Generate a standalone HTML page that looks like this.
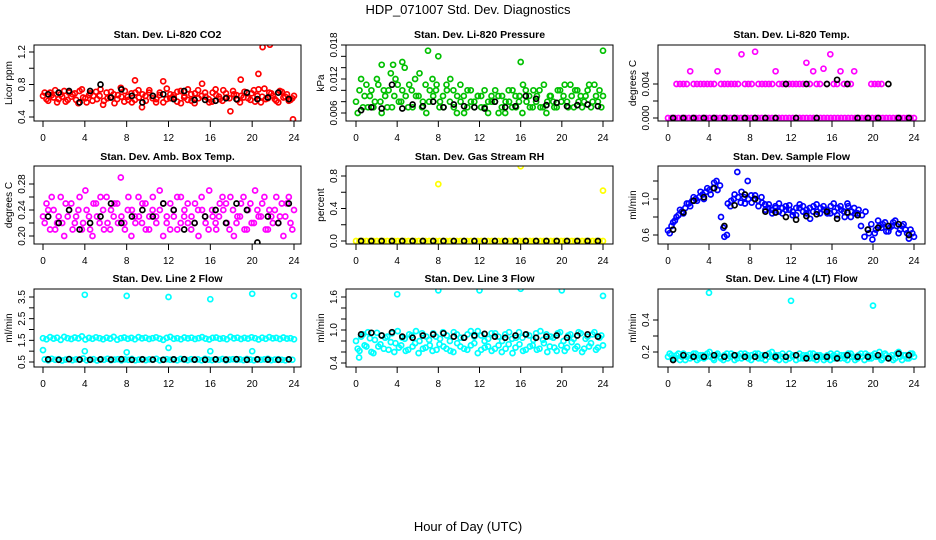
<!DOCTYPE html>
<html><head><meta charset="utf-8"><style>
html,body{margin:0;padding:0;background:#fff}
svg{display:block;font-family:"Liberation Sans",Arial,sans-serif}
</style></head><body>
<svg id="c" width="936" height="540" viewBox="0 0 936 540">
<text x="468" y="14" text-anchor="middle" font-size="13">HDP_071007  Std. Dev. Diagnostics</text>
<text x="468" y="531" text-anchor="middle" font-size="13">Hour of Day (UTC)</text>
</svg>
<script>
const xTicks = [0,4,8,12,16,20,24];
const co2Main = [0.66,0.62,0.70,0.64,0.58,0.68,0.72,0.61,0.65,0.69,0.57,0.74,0.63,0.67,0.60,0.71,0.66,0.55,0.70,0.64,0.68,0.62,0.76,0.59,0.65,0.69,0.61,0.73,0.52,0.66,0.70,0.63,0.58,0.67,0.84,0.62,0.68,0.64,0.71,0.57,0.66,0.74,0.60,0.69,0.63,0.81,0.65,0.58,0.70,0.67,0.62,0.73,0.64,0.47,0.68,0.61,0.66,0.71,0.63,0.69,0.59,0.74,0.65,0.62,0.70,0.66,0.60,0.72,0.64,0.68,0.61,0.66];
const co2Alt = [0.70,0.60,0.67,0.73,0.62,0.65,0.59,0.70,0.68,0.61,0.72,0.64,0.58,0.69,0.66,0.62,0.74,0.60,0.63,0.71,0.57,0.67,0.65,0.72,0.61,0.58,0.70,0.64,0.68,0.60,0.73,0.66,0.62,0.70,0.58,0.75,0.63,0.67,0.59,0.72,0.64,0.61,0.68,0.57,0.73,0.66,0.70,0.62,0.59,0.74,0.65,0.60,0.69,0.63,0.72,0.67,0.58,0.64,0.70,0.61,0.73,0.66,0.58,0.75,0.63,0.69,0.62,0.58,0.71,0.65,0.60,0.63];
const co2OutH = [20.6,21,21.7,23.9,18.9,8.8];
const co2OutV = [0.93,1.26,1.29,0.37,0.86,0.85];
const co2Black = [0.68,0.70,0.72,0.58,0.72,0.80,0.64,0.74,0.66,0.58,0.66,0.68,0.62,0.72,0.61,0.61,0.60,0.63,0.62,0.70,0.62,0.64,0.70,0.62];
const presMain = [0.008,0.010,0.007,0.011,0.009,0.007,0.012,0.008,0.010,0.007,0.013,0.009,0.011,0.008,0.014,0.007,0.010,0.012,0.009,0.007,0.011,0.008,0.012,0.010,0.007,0.009,0.011,0.008,0.010,0.006,0.011,0.009,0.007,0.010,0.008,0.009,0.009,0.007,0.008,0.008,0.010,0.006,0.009,0.008,0.008,0.010,0.007,0.009,0.011,0.008,0.007,0.010,0.009,0.007,0.011,0.008,0.009,0.007,0.010,0.008,0.011,0.007,0.009,0.010,0.008,0.007,0.009,0.011,0.008,0.009,0.010,0.009];
const presAlt = [0.006,0.012,0.009,0.007,0.010,0.008,0.011,0.006,0.009,0.010,0.007,0.012,0.008,0.010,0.009,0.011,0.007,0.009,0.013,0.008,0.006,0.010,0.009,0.011,0.008,0.007,0.010,0.012,0.007,0.009,0.008,0.006,0.010,0.008,0.007,0.009,0.007,0.010,0.006,0.009,0.008,0.009,0.007,0.006,0.010,0.007,0.009,0.008,0.006,0.010,0.009,0.007,0.008,0.010,0.007,0.006,0.009,0.008,0.007,0.010,0.009,0.008,0.011,0.007,0.010,0.009,0.008,0.010,0.007,0.011,0.008,0.007];
const presOutH = [5.3,24,4.5,16,3.6,7,8,2.5];
const presOutV = [0.0185,0.0170,0.0150,0.0150,0.0145,0.0170,0.0160,0.0145];
const presBlack = [0.0065,0.0070,0.0068,0.0110,0.0068,0.0075,0.0072,0.0080,0.0070,0.0075,0.0072,0.0070,0.0068,0.0080,0.0070,0.0072,0.0090,0.0085,0.0074,0.0078,0.0072,0.0074,0.0075,0.0072];
const tempLow = [0,0,0,0,0,0,0,0,0,0,0,0,0,0,0,0,0,0,0,0,0,0,0,0,0,0,0,0,0,0,0,0,0,0,0,0,0,0,0,0,0,0,0,0,0,0,0,0,0,0,0,0,0,0,0,0,0,0,0,0,0,0,0,0,0,0,0,0,0,0,0,0];
const tempHigh = [null,null,0.004,0.004,0.004,0.004,0.0055,0.004,0.004,0.004,0.004,0.004,0.004,0.004,0.0055,0.004,0.004,0.004,0.004,0.004,0.004,0.0075,0.004,0.004,0.004,0.0078,0.004,0.004,0.004,0.004,0.004,0.0055,0.004,0.004,0.004,0.004,0.004,0.004,0.004,0.004,0.0065,0.004,0.0055,0.004,0.004,0.0058,0.004,0.0075,0.004,0.004,0.0055,0.004,0.004,0.004,0.0055,null,null,null,null,0.004,0.004,0.004,0.004,null,null,null,null,null,null,null,null,null];
const tempBlack = [0,0,0,0,0,0,0,0,0,0,0,0.004,0,0.004,0,0.004,0.0045,0.004,0,0,0,0.004,0,0];
const ambMain = [0.23,0.25,0.21,0.24,0.22,0.26,0.20,0.23,0.25,0.22,0.24,0.21,0.27,0.23,0.20,0.25,0.22,0.24,0.26,0.21,0.23,0.25,0.29,0.22,0.24,0.20,0.23,0.26,0.22,0.25,0.21,0.24,0.23,0.27,0.20,0.22,0.25,0.23,0.21,0.26,0.24,0.22,0.23,0.25,0.20,0.24,0.22,0.27,0.23,0.21,0.25,0.24,0.22,0.26,0.20,0.23,0.25,0.21,0.24,0.22,0.27,0.23,0.25,0.21,0.24,0.22,0.26,0.23,0.20,0.25,0.22,0.24];
const ambAlt = [0.22,0.24,0.26,0.21,0.23,0.22,0.25,0.24,0.21,0.23,0.26,0.22,0.24,0.21,0.25,0.23,0.26,0.21,0.22,0.24,0.25,0.22,0.23,0.21,0.26,0.24,0.22,0.23,0.25,0.21,0.23,0.26,0.22,0.24,0.25,0.23,0.21,0.24,0.26,0.22,0.23,0.25,0.21,0.22,0.24,0.26,0.23,0.21,0.24,0.22,0.23,0.26,0.25,0.21,0.24,0.22,0.23,0.26,0.21,0.25,0.22,0.24,0.23,0.26,0.21,0.23,0.24,0.22,0.25,0.23,0.26,0.21];
const ambBlack = [0.23,0.22,0.24,0.21,0.22,0.23,0.25,0.22,0.23,0.24,0.23,0.25,0.24,0.21,0.22,0.23,0.24,0.22,0.25,0.24,0.19,0.23,0.22,0.25];
const rhMain = [0,0,0,0,0,0,0,0,0,0,0,0,0,0,0,0,0,0,0,0,0,0,0,0,0,0,0,0,0,0,0,0,0,0,0,0,0,0,0,0,0,0,0,0,0,0,0,0,0,0,0,0,0,0,0,0,0,0,0,0,0,0,0,0,0,0,0,0,0,0,0,0];
const rhOutH = [8,16,24];
const rhOutV = [0.70,0.92,0.62];
const rhBlack = [0,0,0,0,0,0,0,0,0,0,0,0,0,0,0,0,0,0,0,0,0,0,0,0];
const flowMain = [0.65,0.70,0.76,0.82,0.86,0.90,0.95,0.98,1.00,1.02,1.05,1.08,1.10,1.12,1.20,1.15,0.68,0.60,0.92,1.00,1.30,0.96,1.02,1.20,1.04,1.00,0.98,1.02,0.94,0.90,0.88,0.92,0.86,0.90,0.92,0.88,0.82,0.90,0.94,0.86,0.88,0.78,0.92,0.86,0.90,0.88,0.84,0.92,0.86,0.90,0.88,0.80,0.92,0.86,0.84,0.88,0.82,0.86,0.62,0.55,0.66,0.70,0.72,0.64,0.68,0.74,0.70,0.66,0.72,0.62,0.66,0.58];
const flowAlt = [0.62,0.74,0.80,0.88,0.84,0.95,0.92,1.02,0.98,1.08,1.00,1.12,1.05,1.18,1.10,0.80,0.58,0.95,0.98,1.05,1.02,1.08,0.95,1.00,0.96,1.04,0.92,0.96,0.88,0.94,0.84,0.90,0.95,0.84,0.88,0.93,0.86,0.82,0.90,0.92,0.84,0.90,0.86,0.94,0.84,0.92,0.88,0.84,0.95,0.82,0.92,0.86,0.95,0.80,0.90,0.84,0.70,0.58,0.66,0.72,0.62,0.76,0.68,0.74,0.64,0.70,0.76,0.62,0.70,0.66,0.56,0.62];
const flowBlack = [0.66,0.85,0.98,1.02,1.12,0.70,0.93,1.05,1.00,0.86,0.85,0.80,0.77,0.81,0.83,0.86,0.78,0.85,0.82,0.66,0.68,0.70,0.72,0.60];
const l2Main = [1.60,1.55,1.65,1.58,1.62,1.52,1.66,1.60,1.56,1.63,1.59,1.68,1.54,1.61,1.57,1.64,1.60,1.55,1.62,1.58,1.66,1.53,1.60,1.63,1.57,1.61,1.55,1.65,1.59,1.62,1.56,1.60,1.64,1.58,1.52,1.61,1.66,1.57,1.60,1.55,1.63,1.59,1.62,1.56,1.60,1.65,1.58,1.54,1.61,1.63,1.57,1.60,1.55,1.66,1.59,1.62,1.56,1.61,1.58,1.64,1.60,1.54,1.62,1.57,1.65,1.59,1.61,1.56,1.63,1.58,1.60,1.55];
const l2Alt = [0.62,0.58,0.65,0.60,0.63,0.57,0.61,0.64,0.59,0.62,0.60,0.66,0.58,0.61,0.63,0.57,0.62,0.60,0.65,0.59,0.61,0.63,0.58,0.62,0.60,0.64,0.58,0.61,0.63,0.59,0.62,0.60,0.65,0.58,0.61,0.63,0.60,0.62,0.58,0.64,0.61,0.59,0.63,0.60,0.62,0.58,0.65,0.61,0.59,0.62,0.60,0.64,0.58,0.61,0.63,0.60,0.62,0.59,0.64,0.61,0.58,0.63,0.60,0.62,0.65,0.59,0.61,0.63,0.60,0.58,0.62,0.60];
const l2OutH = [4,8,12,16,20,24,0,4,8,12,16,20];
const l2OutV = [3.6,3.55,3.5,3.4,3.65,3.55,1.05,1.0,0.95,1.15,1.0,1.0];
const l2Black = [0.62,0.60,0.63,0.61,0.60,0.62,0.61,0.63,0.60,0.62,0.61,0.60,0.62,0.63,0.61,0.60,0.62,0.61,0.63,0.60,0.62,0.61,0.60,0.62];
const l3Main = [0.80,0.62,0.92,0.70,0.85,0.58,0.95,0.74,0.66,0.88,0.78,0.60,0.98,0.72,0.84,0.64,0.90,0.76,0.58,0.94,0.68,0.82,0.62,0.88,0.74,0.96,0.66,0.80,0.60,0.92,0.70,0.86,0.64,0.98,0.76,0.58,0.90,0.68,0.84,0.62,0.94,0.72,0.80,0.66,0.96,0.58,0.86,0.74,0.62,0.92,0.70,0.82,0.64,0.98,0.76,0.60,0.88,0.68,0.94,0.72,0.62,0.90,0.78,0.66,0.96,0.60,0.84,0.70,0.92,0.64,0.86,0.72];
const l3Alt = [0.66,0.88,0.72,0.96,0.60,0.82,0.70,0.90,0.86,0.64,0.94,0.76,0.68,0.86,0.62,0.92,0.70,0.98,0.80,0.66,0.88,0.72,0.94,0.64,0.84,0.70,0.90,0.62,0.96,0.76,0.86,0.66,0.92,0.72,0.88,0.98,0.64,0.80,0.70,0.94,0.66,0.88,0.60,0.92,0.74,0.84,0.68,0.96,0.86,0.64,0.90,0.72,0.94,0.66,0.82,0.92,0.70,0.86,0.62,0.96,0.80,0.68,0.92,0.84,0.70,0.94,0.66,0.88,0.76,0.96,0.68,0.90];
const l3OutH = [4,8,12,16,20,24,0.3];
const l3OutV = [1.65,1.72,1.72,1.75,1.72,1.62,0.50];
const l3Black = [0.92,0.95,0.90,0.96,0.88,0.86,0.90,0.92,0.94,0.88,0.86,0.90,0.93,0.88,0.86,0.90,0.92,0.86,0.88,0.90,0.86,0.90,0.92,0.88];
const l4Main = [0.17,0.18,0.16,0.19,0.17,0.15,0.18,0.17,0.19,0.16,0.18,0.17,0.20,0.16,0.18,0.17,0.15,0.19,0.17,0.18,0.16,0.19,0.17,0.18,0.15,0.17,0.19,0.16,0.18,0.17,0.20,0.16,0.18,0.17,0.15,0.19,0.17,0.18,0.16,0.18,0.17,0.19,0.16,0.18,0.17,0.15,0.18,0.19,0.16,0.17,0.18,0.16,0.19,0.17,0.15,0.18,0.17,0.19,0.16,0.18,0.17,0.20,0.16,0.18,0.17,0.15,0.19,0.17,0.18,0.16,0.19,0.17];
const l4Alt = [0.19,0.16,0.18,0.15,0.19,0.17,0.16,0.19,0.15,0.18,0.16,0.19,0.17,0.15,0.19,0.16,0.18,0.16,0.19,0.15,0.18,0.16,0.19,0.16,0.18,0.19,0.16,0.18,0.15,0.19,0.17,0.18,0.15,0.19,0.17,0.16,0.18,0.15,0.19,0.16,0.18,0.16,0.19,0.15,0.18,0.17,0.16,0.15,0.18,0.19,0.16,0.18,0.15,0.19,0.17,0.16,0.19,0.15,0.18,0.16,0.19,0.17,0.15,0.19,0.16,0.18,0.16,0.20,0.15,0.18,0.16,0.19];
const l4OutH = [4,12,20];
const l4OutV = [0.57,0.52,0.49];
const l4Black = [0.15,0.18,0.17,0.17,0.18,0.17,0.18,0.17,0.17,0.18,0.17,0.17,0.18,0.16,0.17,0.17,0.16,0.18,0.17,0.17,0.18,0.16,0.19,0.18];

const NS = 'http://www.w3.org/2000/svg';
const svg = document.getElementById('c');
function mk(tag, attrs, parent){const e=document.createElementNS(NS,tag);for(const k in attrs)e.setAttribute(k,attrs[k]);(parent||svg).appendChild(e);return e;}

const colX = [[34,301,43,294],[346,613,356,603],[658,925,668,914]];
const rowY = [[45,121,34],[166,244,156],[289,367,278]];

const panels = [
 {r:0,c:0,name:'co2',title:'Stan. Dev. Li-820 CO2',ylab:'Licor ppm',ymin:0.4,ymax:1.2,y0:117,y1:52,ticks:[0.4,0.6,0.8,1.0,1.2],tl:['0.4','','0.8','','1.2'],col:'#ff0000',main:co2Main,alt:co2Alt,oh:co2OutH,ov:co2OutV,blk:co2Black},
 {r:0,c:1,name:'pressure',title:'Stan. Dev. Li-820 Pressure',ylab:'kPa',ymin:0.006,ymax:0.018,y0:113,y1:45,ticks:[0.006,0.008,0.010,0.012,0.014,0.016,0.018],tl:['0.006','','','0.012','','','0.018'],col:'#00c000',main:presMain,alt:presAlt,oh:presOutH,ov:presOutV,blk:presBlack},
 {r:0,c:2,name:'temp',title:'Stan. Dev. Li-820 Temp.',ylab:'degrees C',ymin:0,ymax:0.004,y0:118,y1:84,ticks:[0,0.002,0.004],tl:['0.000','','0.004'],col:'#ff00ff',main:tempLow,alt:tempHigh,blk:tempBlack},
 {r:1,c:0,name:'amb-temp',title:'Stan. Dev. Amb. Box Temp.',ylab:'degrees C',ymin:0.20,ymax:0.28,y0:236,y1:184,ticks:[0.20,0.22,0.24,0.26,0.28],tl:['0.20','','0.24','','0.28'],col:'#ff00ff',main:ambMain,alt:ambAlt,blk:ambBlack},
 {r:1,c:1,name:'rh',title:'Stan. Dev. Gas Stream RH',ylab:'percent',ymin:0,ymax:0.8,y0:241,y1:176,ticks:[0,0.2,0.4,0.6,0.8],tl:['0.0','','0.4','','0.8'],col:'#ffff00',main:rhMain,oh:rhOutH,ov:rhOutV,blk:rhBlack},
 {r:1,c:2,name:'sample-flow',title:'Stan. Dev. Sample Flow',ylab:'ml/min',ymin:0.6,ymax:1.0,y0:235,y1:199,ticks:[0.6,0.8,1.0,1.2],tl:['0.6','','1.0',''],col:'#0000ff',main:flowMain,alt:flowAlt,blk:flowBlack},
 {r:2,c:0,name:'line2-flow',title:'Stan. Dev. Line 2 Flow',ylab:'ml/min',ymin:0.5,ymax:3.5,y0:362,y1:297,ticks:[0.5,1,1.5,2,2.5,3,3.5],tl:['0.5','','1.5','','2.5','','3.5'],col:'#00ffff',main:l2Main,alt:l2Alt,oh:l2OutH,ov:l2OutV,blk:l2Black},
 {r:2,c:1,name:'line3-flow',title:'Stan. Dev. Line 3 Flow',ylab:'ml/min',ymin:0.4,ymax:1.6,y0:363,y1:297,ticks:[0.4,0.6,0.8,1.0,1.2,1.4,1.6],tl:['0.4','','','1.0','','','1.6'],col:'#00ffff',main:l3Main,alt:l3Alt,oh:l3OutH,ov:l3OutV,blk:l3Black},
 {r:2,c:2,name:'line4-flow',title:'Stan. Dev. Line 4 (LT) Flow',ylab:'ml/min',ymin:0.2,ymax:0.4,y0:352,y1:320,ticks:[0.2,0.3,0.4],tl:['0.2','','0.4'],col:'#00ffff',main:l4Main,alt:l4Alt,oh:l4OutH,ov:l4OutV,blk:l4Black}
];

function dot(g,x,y,col,w){
  const c=mk('circle',{cx:x.toFixed(1),cy:y.toFixed(1),r:2.5,fill:'none',stroke:col,'stroke-width':w||1.7},g);
  
  
}

panels.forEach(p=>{
  const [bx0,bx1,hx0,hx24]=colX[p.c];
  const [by0,by1,ty]=rowY[p.r];
  const xs=h=>hx0+(hx24-hx0)*h/24;
  const ys=v=>p.y0+(p.y1-p.y0)*(v-p.ymin)/(p.ymax-p.ymin);
  const g=mk('g',{});
  
  
  const t=mk('text',{x:(bx0+bx1)/2,y:ty+4,'text-anchor':'middle','font-size':10.5,'font-weight':'bold'},g);
  t.textContent=p.title;
  
  
  const cp='clip-'+p.name;
  const cpe=mk('clipPath',{id:cp},g);
  mk('rect',{x:bx0,y:by0,width:bx1-bx0,height:by1-by0},cpe);
  const pts=mk('g',{'clip-path':'url(#'+cp+')'},g);
  
  
  const n=p.main.length;
  p.main.forEach((v,i)=>{ if(v!==null) dot(pts,xs(i*24/(n-1)),ys(v),p.col); });
  if(p.alt){ const m=p.alt.length; p.alt.forEach((v,i)=>{ if(v!==null) dot(pts,xs((i+0.5)*24/m),ys(v),p.col); }); }
  if(p.oh) p.oh.forEach((h,i)=>{ dot(pts,xs(h),ys(p.ov[i]),p.col); });
  p.blk.forEach((v,i)=>{ dot(pts,xs(i+0.5),ys(v),'#000',1.7); });
  const box=mk('rect',{x:bx0,y:by0,width:bx1-bx0,height:by1-by0,fill:'none',stroke:'#000','stroke-width':1},g);
  
  
  xTicks.forEach(h=>{
    mk('line',{x1:xs(h),x2:xs(h),y1:by1,y2:by1+6,stroke:'#000'},g);
    const tx=mk('text',{x:xs(h),y:by1+20,'text-anchor':'middle','font-size':10},g);
    tx.textContent=h;
    
    
  });
  mk('line',{x1:bx0,x2:bx0,y1:ys(p.ticks[0]),y2:ys(p.ticks[p.ticks.length-1]),stroke:'#000'},g);
  p.ticks.forEach((v,i)=>{
    const y=ys(v);
    mk('line',{x1:bx0-5,x2:bx0,y1:y,y2:y,stroke:'#000'},g);
    if(p.tl[i]){
      const ty2=mk('text',{x:bx0-9,y:y,'text-anchor':'middle','font-size':10,transform:'rotate(-90 '+(bx0-9)+' '+y+')'},g);
      ty2.textContent=p.tl[i];
      
      
    }
  });
  const yl=mk('text',{x:bx0-22,y:(by0+by1)/2,'text-anchor':'middle','font-size':10,transform:'rotate(-90 '+(bx0-22)+' '+((by0+by1)/2)+')'},g);
  yl.textContent=p.ylab;
  
  
});
</script>
</body></html>
